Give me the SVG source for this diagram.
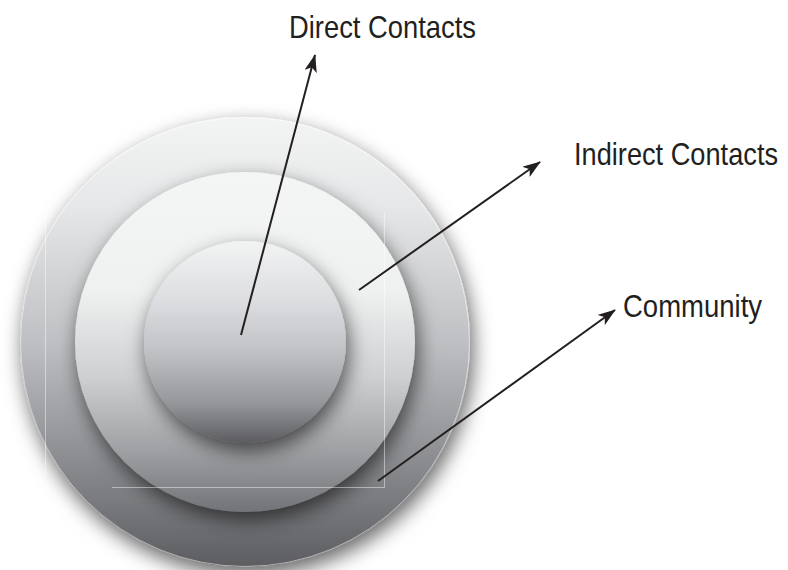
<svg xmlns="http://www.w3.org/2000/svg" width="788" height="570" viewBox="0 0 788 570">
<defs>
<style>
.lbl{font-family:"Liberation Sans",Arial,sans-serif;font-size:32px;fill:#231f20}
.con{stroke:#231f20;stroke-width:2;fill:none}
.ghost{stroke:#ffffff;stroke-opacity:0.45;stroke-width:1;fill:none}
</style>
<linearGradient id="gOuter" x1="0" y1="0" x2="0" y2="1">
<stop offset="0" stop-color="#f3f4f4"/>
<stop offset="0.2" stop-color="#e6e7e8"/>
<stop offset="0.5" stop-color="#bfc0c3"/>
<stop offset="0.75" stop-color="#8e8f93"/>
<stop offset="1" stop-color="#5c5d61"/>
</linearGradient>
<linearGradient id="gMid" x1="0" y1="0" x2="0" y2="1">
<stop offset="0" stop-color="#f4f5f5"/>
<stop offset="0.35" stop-color="#eff0f0"/>
<stop offset="0.6" stop-color="#cfd0d2"/>
<stop offset="0.82" stop-color="#9fa0a3"/>
<stop offset="1" stop-color="#727377"/>
</linearGradient>
<linearGradient id="gIn" x1="0" y1="0" x2="0" y2="1">
<stop offset="0" stop-color="#f2f3f3"/>
<stop offset="0.3" stop-color="#dcdde0"/>
<stop offset="0.55" stop-color="#c0c1c4"/>
<stop offset="0.8" stop-color="#96979b"/>
<stop offset="1" stop-color="#5b5c60"/>
</linearGradient>
<filter id="sh" x="-20%" y="-20%" width="140%" height="140%">
<feGaussianBlur in="SourceAlpha" stdDeviation="10"/>
<feOffset dx="3" dy="8" result="b"/>
<feFlood flood-color="#000" flood-opacity="0.6"/>
<feComposite in2="b" operator="in" result="s"/>
<feMerge><feMergeNode in="s"/><feMergeNode in="SourceGraphic"/></feMerge>
</filter>
<marker id="ah" viewBox="0 0 20 14" refX="19" refY="7" markerWidth="9" markerHeight="6.3" orient="auto" markerUnits="strokeWidth">
<path d="M0,0 L20,7 L0,14 L5,7 Z" fill="#231f20"/>
</marker>
</defs>
<rect width="788" height="570" fill="#ffffff"/>
<g id="community">
<circle cx="245" cy="342" r="225" fill="url(#gOuter)" filter="url(#sh)"/>
<circle cx="245" cy="342" r="224.5" fill="none" stroke="#ffffff" stroke-opacity="0.5" stroke-width="1"/>
</g>
<g id="indirect-contacts">
<circle cx="245" cy="342" r="170" fill="url(#gMid)" filter="url(#sh)"/>
</g>
<g id="direct-contacts">
<circle cx="245" cy="342" r="101" fill="url(#gIn)" filter="url(#sh)"/>
</g>
<g id="guides">
<path class="ghost" d="M384.5,213 V487.5 H112"/>
<path class="ghost" d="M45.5,213 V478"/>
</g>
<g id="connectors">
<line class="con" x1="241" y1="335" x2="315" y2="55" marker-end="url(#ah)"/>
<line class="con" x1="359" y1="290" x2="540" y2="162" marker-end="url(#ah)"/>
<line class="con" x1="378" y1="481" x2="615" y2="310" marker-end="url(#ah)"/>
</g>
<g id="labels">
<text class="lbl" transform="translate(289,38) scale(0.855,1)">Direct Contacts</text>
<text class="lbl" transform="translate(574,165) scale(0.85,1)">Indirect Contacts</text>
<text class="lbl" transform="translate(623,317) scale(0.86,1)">Community</text>
</g>
</svg>
